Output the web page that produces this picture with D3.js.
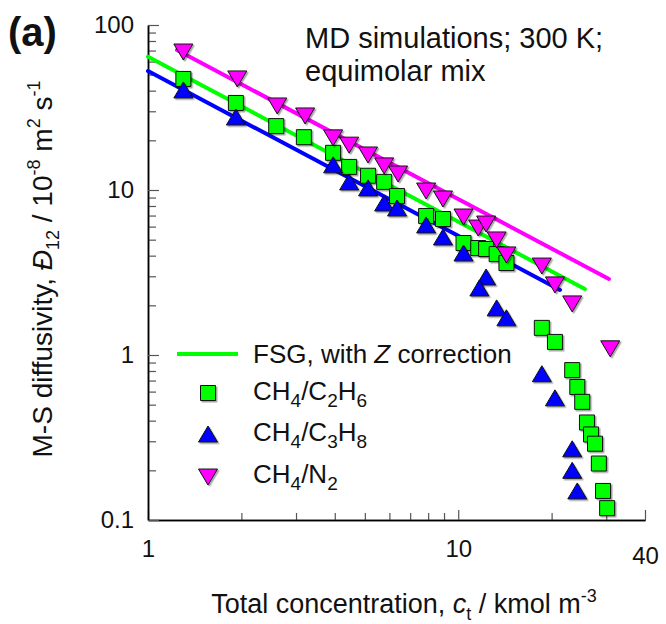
<!DOCTYPE html>
<html>
<head>
<meta charset="utf-8">
<script src="https://cdn.jsdelivr.net/npm/d3@7"></script>
<style>
  body { margin: 0; background: #fff; }
  text { font-family: "Liberation Sans", Arial, Helvetica, sans-serif; fill: #111; }
</style>
</head>
<body>
<div id="chart"></div>
<script>
// data: total concentration c_t (kmol/m3) and D12 (1e-8 m2/s)
const c2h6_ct = [1.30, 1.92, 2.59, 3.18, 3.95, 4.45, 5.12, 5.77, 6.35, 7.88, 8.93, 10.4, 11.6, 12.3, 13.3, 14.3, 18.6, 20.5, 23.3, 24.2, 25.1, 26.0, 26.8, 27.6, 28.4, 29.3, 30.2];
const c2h6_D  = [47.1, 33.7, 24.4, 20.9, 16.8, 13.8, 12.2, 11.2, 9.2, 6.96, 6.67, 4.77, 4.45, 4.39, 4.09, 3.61, 1.46, 1.20, 0.81, 0.64, 0.52, 0.39, 0.33, 0.29, 0.22, 0.150, 0.118];

const c3h8_ct = [1.30, 1.92, 3.95, 4.45, 5.12, 5.77, 6.35, 7.88, 8.93, 10.4, 12.3, 11.7, 13.3, 14.3, 18.6, 20.5, 23.3, 23.3, 24.2];
const c3h8_D  = [40.4, 27.7, 14.2, 11.2, 10.3, 8.34, 7.78, 6.14, 5.19, 4.15, 2.97, 2.55, 1.93, 1.68, 0.77, 0.55, 0.27, 0.20, 0.150];

const n2_ct = [1.30, 1.94, 2.61, 3.21, 3.95, 4.45, 5.12, 5.77, 6.40, 7.88, 8.93, 10.4, 11.6, 12.3, 13.3, 14.3, 18.6, 20.5, 23.3, 30.9];
const n2_D  = [68.6, 47.1, 32.3, 28.1, 20.7, 18.7, 16.3, 14.0, 12.5, 9.86, 8.82, 6.86, 5.88, 6.22, 4.98, 4.04, 3.46, 2.66, 2.04, 1.09];

// FSG model lines (end points)
const fsg_c2h6 = [[1, 64.3], [25.6, 2.51]];
const fsg_c3h8 = [[1, 52.6], [21.3, 2.48]];
const fsg_n2   = [[1.24, 70.5], [30.6, 2.89]];

const xMajor = [1, 10, 40];
const xMinor = [2, 3, 4, 5, 6, 7, 8, 9, 20, 30];
const yMajor = [0.1, 1, 10, 100];
const yMinor = [0.2, 0.3, 0.4, 0.5, 0.6, 0.7, 0.8, 0.9, 2, 3, 4, 5, 6, 7, 8, 9, 20, 30, 40, 50, 60, 70, 80, 90];

const GREEN = "#00ff00", BLUE = "#0000ff", MAGENTA = "#ff00ff";

const svg = d3.select("#chart").append("svg")
    .attr("width", 666)
    .attr("height", 624);

const defs = svg.append("defs");
defs.append("filter").attr("id", "shadow")
    .attr("x", "-30%").attr("y", "-30%").attr("width", "160%").attr("height", "160%")
  .append("feDropShadow")
    .attr("dx", 1.5).attr("dy", 1.5).attr("stdDeviation", 0.6)
    .attr("flood-color", "#000").attr("flood-opacity", 0.35);

// scales
const x = d3.scaleLog().domain([1, 40]).range([148, 645]);
const y = d3.scaleLog().domain([0.1, 100]).range([520, 25]);

// axes: ticks point into the plot
const gx = svg.append("g").attr("transform", "translate(0,520)");
gx.call(d3.axisBottom(x).tickValues(xMinor).tickSize(-7).tickSizeOuter(0).tickFormat(""));
const gxMaj = svg.append("g").attr("transform", "translate(0,520)");
gxMaj.call(d3.axisBottom(x).tickValues(xMajor).tickSize(-10).tickSizeOuter(0).tickPadding(20).tickFormat(d3.format("d")));
gxMaj.selectAll("text").filter(d => d === 40).attr("dy", "1.0em");

const gy = svg.append("g").attr("transform", "translate(148,0)");
gy.call(d3.axisLeft(y).tickValues(yMinor).tickSize(-8).tickSizeOuter(0).tickFormat(""));
const gyMaj = svg.append("g").attr("transform", "translate(148,0)");
gyMaj.call(d3.axisLeft(y).tickValues(yMajor).tickSize(-11).tickSizeOuter(0).tickPadding(14).tickFormat(d => d < 1 ? "0.1" : d3.format("d")(d)));

svg.selectAll(".tick line").attr("stroke", "#555").attr("stroke-width", 1.2);
svg.selectAll(".domain").attr("stroke", "#000").attr("stroke-width", 1.5);
svg.selectAll(".tick text")
    .style("font-family", "Liberation Sans, Arial, sans-serif")
    .style("font-size", "24px")
    .attr("fill", "#111");

// FSG lines
const line = d3.line().x(d => x(d[0])).y(d => y(d[1]));
[[fsg_c2h6, GREEN], [fsg_c3h8, BLUE], [fsg_n2, MAGENTA]].forEach(([pts, col]) => {
    svg.append("path")
        .attr("d", line(pts))
        .attr("fill", "none")
        .attr("stroke", col)
        .attr("stroke-width", 4)
        .attr("stroke-linecap", "round");
});

// marker shapes
const squarePath = "M-7.5,-7.5h15v15h-15z";
const triUp = "M0,-8L9.5,8L-9.5,8z";
const triDown = "M0,8L9.5,-8L-9.5,-8z";

function drawSeries(cs, ds, path, col) {
    svg.append("g")
        .selectAll("path")
        .data(cs.map((c, i) => ({ c: c, D: ds[i] })))
        .join("path")
            .attr("transform", d => `translate(${x(d.c)},${y(d.D)})`)
            .attr("d", path)
            .attr("fill", col)
            .attr("stroke", "#111")
            .attr("stroke-width", 1)
            .attr("filter", "url(#shadow)");
}
drawSeries(c2h6_ct, c2h6_D, squarePath, GREEN);
drawSeries(c3h8_ct, c3h8_D, triUp, BLUE);
drawSeries(n2_ct, n2_D, triDown, MAGENTA);

// legend
const lg = svg.append("g");
lg.append("line")
    .attr("x1", 177).attr("x2", 238).attr("y1", 354).attr("y2", 354)
    .attr("stroke", GREEN).attr("stroke-width", 4);
const t0 = lg.append("text").attr("x", 253).attr("y", 363).style("font-size", "26px");
t0.append("tspan").text("FSG, with ");
t0.append("tspan").style("font-style", "italic").text("Z");
t0.append("tspan").text(" correction");

const legendRows = [
    { path: squarePath, col: GREEN, cy: 393, base: 400, parts: [["CH", 0], ["4", 1], ["/C", 0], ["2", 1], ["H", 0], ["6", 1]] },
    { path: triUp, col: BLUE, cy: 434, base: 441, parts: [["CH", 0], ["4", 1], ["/C", 0], ["3", 1], ["H", 0], ["8", 1]] },
    { path: triDown, col: MAGENTA, cy: 477, base: 483, parts: [["CH", 0], ["4", 1], ["/N", 0], ["2", 1]] }
];
legendRows.forEach(r => {
    lg.append("path")
        .attr("transform", `translate(208,${r.cy})`)
        .attr("d", r.path)
        .attr("fill", r.col)
        .attr("stroke", "#111")
        .attr("stroke-width", 1)
        .attr("filter", "url(#shadow)");
    const t = lg.append("text").attr("x", 253).attr("y", r.base).style("font-size", "26px");
    r.parts.forEach(([s, sub]) => {
        t.append("tspan")
            .attr("y", sub ? r.base + 7 : r.base)
            .style("font-size", sub ? "19px" : "26px")
            .text(s);
    });
});

// annotation
svg.append("text").attr("x", 305).attr("y", 48).style("font-size", "29px").text("MD simulations; 300 K;");
svg.append("text").attr("x", 305).attr("y", 81).style("font-size", "29px").text("equimolar mix");

// panel label
svg.append("text").attr("x", 8).attr("y", 46)
    .style("font-size", "40px").style("font-weight", "bold").text("(a)");

// x title
const xt = svg.append("text").attr("x", 404).attr("y", 613)
    .attr("text-anchor", "middle").style("font-size", "27px");
xt.append("tspan").text("Total concentration, ");
xt.append("tspan").style("font-style", "italic").text("c");
xt.append("tspan").attr("dy", 7).style("font-size", "18px").text("t");
xt.append("tspan").attr("dy", -7).text(" / kmol m");
xt.append("tspan").attr("dy", -11).style("font-size", "18px").text("-3");

// y title
const yt = svg.append("text")
    .attr("transform", "translate(52,269) rotate(-90)")
    .attr("text-anchor", "middle").style("font-size", "28px");
yt.append("tspan").text("M-S diffusivity, ");
yt.append("tspan").style("font-style", "italic").text("Đ");
yt.append("tspan").attr("dy", 7).style("font-size", "18px").text("12");
yt.append("tspan").attr("dy", -7).text(" / 10");
yt.append("tspan").attr("dy", -12).style("font-size", "18px").text("-8");
yt.append("tspan").attr("dy", 12).text(" m");
yt.append("tspan").attr("dy", -12).style("font-size", "18px").text("2");
yt.append("tspan").attr("dy", 12).text(" s");
yt.append("tspan").attr("dy", -12).style("font-size", "18px").text("-1");
</script>
</body>
</html>
